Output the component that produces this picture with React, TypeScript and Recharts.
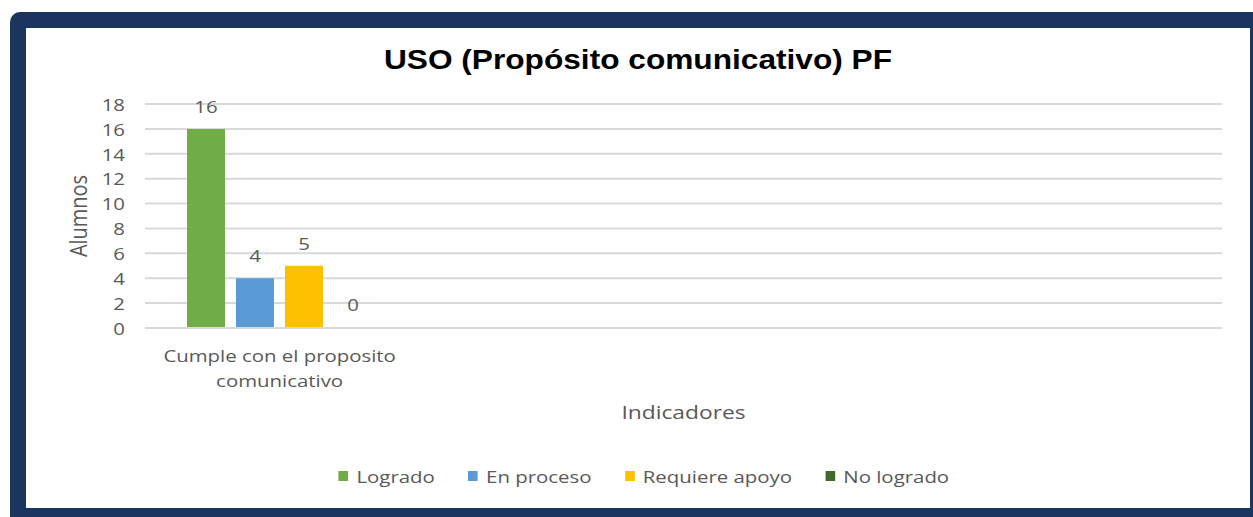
import { BarChart, Bar, XAxis, YAxis, CartesianGrid, Legend, Rectangle } from 'recharts';

const categories = ['Cumple con el proposito comunicativo', '', '', ''];
const logrado = [16, null, null, null];
const enProceso = [4, null, null, null];
const requiereApoyo = [5, null, null, null];
const noLogrado = [0, null, null, null];
const yTicks = [0, 2, 4, 6, 8, 10, 12, 14, 16, 18];

const series = [
  { key: 'logrado', name: 'Logrado', color: '#70ad47' },
  { key: 'enProceso', name: 'En proceso', color: '#5b9bd5' },
  { key: 'requiereApoyo', name: 'Requiere apoyo', color: '#ffc000' },
  { key: 'noLogrado', name: 'No logrado', color: '#43682b' },
];

const data = categories.map((name, i) => ({
  name,
  logrado: logrado[i],
  enProceso: enProceso[i],
  requiereApoyo: requiereApoyo[i],
  noLogrado: noLogrado[i],
}));

const FONT = '"Open Sans", sans-serif';
const GREY = '#595959';
// the source picture is stretched sideways, so text is widened to match
const SX = 1.2;

function wrapWords(text: string, max: number) {
  const lines: string[] = [];
  let cur = '';
  for (const w of text.split(' ')) {
    if (cur && (cur + ' ' + w).length > max) {
      lines.push(cur);
      cur = w;
    } else cur = cur ? cur + ' ' + w : w;
  }
  if (cur) lines.push(cur);
  return lines;
}

const CategoryTick = (props: any) => {
  const { x, y, payload } = props;
  if (!payload || !payload.value) return null;
  const lines = wrapWords(payload.value, 24);
  return (
    <text transform={`translate(${x},${y}) scale(${SX},1)`} textAnchor="middle" fill={GREY} fontFamily={FONT} fontSize={17}>
      {lines.map((l, i) => (
        <tspan key={i} x={0} dy={i === 0 ? 32 : 25}>{l}</tspan>
      ))}
    </text>
  );
};

const NumTick = (props: any) => {
  const { x, y, payload } = props;
  return (
    <text transform={`translate(${x},${y}) scale(${SX},1)`} textAnchor="end" dominantBaseline="central" fill={GREY} fontFamily={FONT} fontSize={17}>
      {payload.value}
    </text>
  );
};

const renderValue = (props: any) => {
  const { x, y, width, value } = props;
  if (value === null || value === undefined) return null;
  return (
    <text transform={`translate(${x + width / 2},${y - 16}) scale(${SX},1)`} textAnchor="middle" fill={GREY} fontFamily={FONT} fontSize={17}>
      {value}
    </text>
  );
};

// zero bars get a 1px slot so their label is kept, but nothing is painted
const BarShape = (props: any) => {
  const v = props.payload ? props.payload[props.dataKey] : null;
  if (!v) return <g />;
  return <Rectangle {...props} />;
};

const LegendContent = () => (
  <div style={{ display: 'flex', justifyContent: 'center', alignItems: 'center', height: 24, gap: 27.7, paddingLeft: 33, transform: `scaleX(${SX})` }}>
    {series.map((s) => (
      <div key={s.key} style={{ display: 'flex', alignItems: 'center', fontFamily: FONT, fontSize: 17, color: GREY }}>
        <span style={{ width: 8.3, height: 10, background: s.color, marginRight: 6.7, display: 'inline-block' }} />
        {s.name}
      </div>
    ))}
  </div>
);

export default function App() {
  return (
    <div style={{ position: 'absolute', left: 10, top: 12, width: 1243, height: 505, background: '#1b365e', borderTopLeftRadius: 10 }}>
      <div style={{ position: 'absolute', left: 16, top: 16, width: 1224, height: 480, background: '#ffffff' }}>
        <div style={{ position: 'absolute', left: 0, top: 16, width: 1224, textAlign: 'center', fontFamily: '"Liberation Sans", Arial, sans-serif', fontWeight: 'bold', fontSize: 28, color: '#000', transform: 'scaleX(1.13)' }}>
          USO (Propósito comunicativo) PF
        </div>
        <BarChart
          width={1224}
          height={480}
          data={data}
          margin={{ top: 76, right: 28, bottom: 20, left: 0 }}
          barCategoryGap={42}
          barGap={11}
        >
          <CartesianGrid vertical={false} stroke="#d9d9d9" strokeWidth={2} />
          <XAxis
            dataKey="name"
            height={136}
            axisLine={{ stroke: '#d9d9d9', strokeWidth: 2 }}
            tickLine={false}
            tickSize={0}
            tick={<CategoryTick />}
            interval={0}
            label={(p: any) => {
              const vb = p.viewBox;
              return (
                <text transform={`translate(${vb.x + vb.width / 2},${vb.y + 91}) scale(${SX},1)`} textAnchor="middle" fill={GREY} fontFamily={FONT} fontSize={19}>
                  Indicadores
                </text>
              );
            }}
          />
          <YAxis
            width={119}
            domain={[0, 18]}
            ticks={yTicks}
            axisLine={false}
            tickLine={false}
            tickSize={0}
            tickMargin={20}
            tick={<NumTick />}
            interval={0}
            label={(p: any) => {
              const vb = p.viewBox;
              const cx = vb.x + 51;
              const cy = vb.y + vb.height / 2;
              return (
                <text transform={`translate(${cx},${cy}) scale(${SX},1) rotate(-90)`} textAnchor="middle" dominantBaseline="central" fill={GREY} fontFamily={FONT} fontSize={20}>
                  Alumnos
                </text>
              );
            }}
          />
          <Legend verticalAlign="bottom" content={<LegendContent />} />
          {series.map((s) => (
            <Bar
              key={s.key}
              dataKey={s.key}
              name={s.name}
              fill={s.color}
              isAnimationActive={false}
              minPointSize={1}
              shape={<BarShape dataKey={s.key} />}
              label={renderValue}
            />
          ))}
        </BarChart>
      </div>
    </div>
  );
}
